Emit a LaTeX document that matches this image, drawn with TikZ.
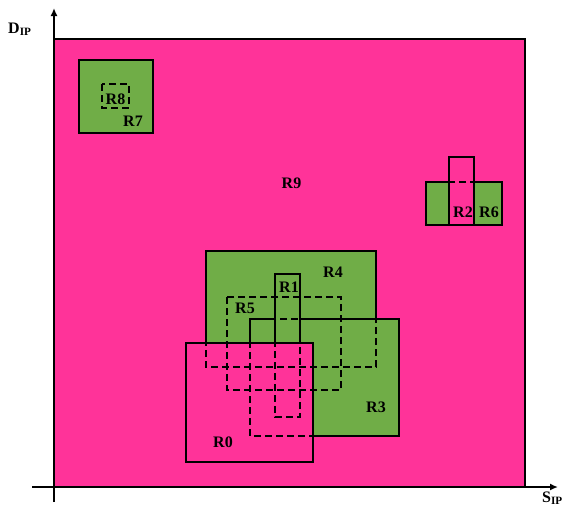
\documentclass[tikz,border=0pt]{standalone}
\usepackage{fontspec}
\setmainfont{Liberation Serif}
\usetikzlibrary{arrows.meta}
\definecolor{denyc}{RGB}{255,51,153}
\definecolor{allowc}{RGB}{112,173,71}
\begin{document}
\begin{tikzpicture}[x=1pt,y=-1pt,
  region/.style={draw=black, line width=2pt},
  hidden/.style={draw=black, line width=2pt, dash pattern=on 7pt off 4pt},
  lbl/.style={font=\fontsize{16}{16}\selectfont\bfseries, inner sep=0pt},
  axis/.style={line width=2pt, -{Latex[length=8pt,width=7pt]}}]
\useasboundingbox (0,0) rectangle (567,507);
% corner coordinates of the regions
\coordinate (r9a) at (54,39);   \coordinate (r9b) at (525,487);
\coordinate (r8a) at (102,84);  \coordinate (r8b) at (129,108);
\coordinate (r7a) at (79,60);   \coordinate (r7b) at (153,133);
\coordinate (r6a) at (426,182); \coordinate (r6b) at (502,225);
\coordinate (r5a) at (227,297); \coordinate (r5b) at (341,390);
\coordinate (r4a) at (206,251); \coordinate (r4b) at (376,367);
\coordinate (r3a) at (250,319); \coordinate (r3b) at (399,436);
\coordinate (r2a) at (449,157); \coordinate (r2b) at (474,225);
\coordinate (r1a) at (275,274); \coordinate (r1b) at (300,417);
\coordinate (r0a) at (186,343); \coordinate (r0b) at (313,462);
% fills and visible outlines, lowest priority first
\path[region, fill=denyc]  (r9a) rectangle (r9b);
\path[region, fill=allowc] (r8a) rectangle (r8b);
\path[region, fill=allowc] (r7a) rectangle (r7b);
\path[region, fill=allowc] (r6a) rectangle (r6b);
\path[region, fill=allowc] (r5a) rectangle (r5b);
\path[region, fill=allowc] (r4a) rectangle (r4b);
\path[region, fill=allowc] (r3a) rectangle (r3b);
\path[region, fill=denyc]  (r2a) rectangle (r2b);
\path[region, fill=allowc] (r1a) rectangle (r1b);
\path[region, fill=denyc]  (r0a) rectangle (r0b);
% hidden outlines
\foreach \r in {r8,r7,r6,r5,r4,r3,r2,r1}
  \path[hidden] (\r a) rectangle (\r b);
% axes
\coordinate (ybot) at (54,502); \coordinate (ytop) at (54,8);
\coordinate (xlft) at (32,487); \coordinate (xrgt) at (558,487);
\draw[axis] (ybot) -- (ytop);
\draw[axis] (xlft) -- (xrgt);
\node[lbl, anchor=base west] (dip) at (8,33) {D\textsubscript{IP}};
\node[lbl, anchor=base west] (sip) at (542,502) {S\textsubscript{IP}};
% labels
\node[lbl] (l9) at (291.5,183.5) {R9};
\node[lbl] (l8) at (115.5,99.5) {R8};
\node[lbl] (l7) at (133,121) {R7};
\node[lbl] (l2) at (463,212) {R2};
\node[lbl] (l6) at (489,212) {R6};
\node[lbl] (l4) at (333,272) {R4};
\node[lbl] (l1) at (289,287) {R1};
\node[lbl] (l5) at (245,308) {R5};
\node[lbl] (l3) at (376,407) {R3};
\node[lbl] (l0) at (223,442) {R0};
\end{tikzpicture}
\end{document}
